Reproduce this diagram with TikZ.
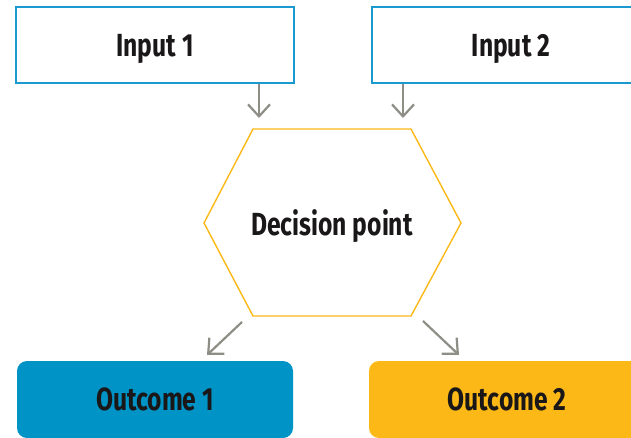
\documentclass[tikz,border=0pt]{standalone}
\usepackage{fontspec}
\setmainfont{Fira Sans}[FakeStretch=0.77]
\usetikzlibrary{arrows.meta, positioning}
\definecolor{boxblue}{HTML}{0093C6}
\definecolor{lineblue}{HTML}{1B9AD0}
\definecolor{decorange}{HTML}{FBB817}
\definecolor{arrgray}{HTML}{8E8E86}
\definecolor{txtblack}{HTML}{1A1718}

\begin{document}
\begin{tikzpicture}[x=1pt, y=1pt,
  every node/.style={font=\bfseries\fontsize{32}{36}\selectfont, text=txtblack, text depth=0pt},
  inbox/.style={draw=lineblue, line width=1.6pt, fill=white, minimum width=278pt, minimum height=76pt},
  outbox/.style={rounded corners=10pt, minimum width=276pt, minimum height=77pt},
  flow/.style={draw=arrgray, line width=2.2pt, -{Straight Barb[length=12pt,width=22pt]}}]
\useasboundingbox (0,0) rectangle (631,437);
\node[inbox] (in1) at (155,392) {Input 1};
\node[inbox] (in2) at (511,392) {Input 2};
\node (dec) at (332,214) {Decision point};
\node[outbox, fill=boxblue] (out1) at (155,37.5) {Outcome 1};
\node[outbox, fill=decorange] (out2) at (507,37.5) {Outcome 2};
\draw[decorange, line width=1.4pt]
  ([shift={(-128,0)}]dec.center) -- ([shift={(-79,94)}]dec.center)
  -- ([shift={(79,94)}]dec.center) -- ([shift={(129,0)}]dec.center)
  -- ([shift={(79,-93)}]dec.center) -- ([shift={(-79,-93)}]dec.center) -- cycle;
\coordinate (a1) at (259,319);
\coordinate (a2) at (403,319);
\coordinate (b1) at (242,115);
\coordinate (b2) at (423,116);
\coordinate (c1) at (207,82);
\coordinate (c2) at (459,82);
\draw[flow] ([xshift=104]in1.south) -- (a1);
\draw[flow] ([xshift=-108]in2.south) -- (a2);
\draw[flow] (b1) -- (c1);
\draw[flow] (b2) -- (c2);
\end{tikzpicture}
\end{document}
